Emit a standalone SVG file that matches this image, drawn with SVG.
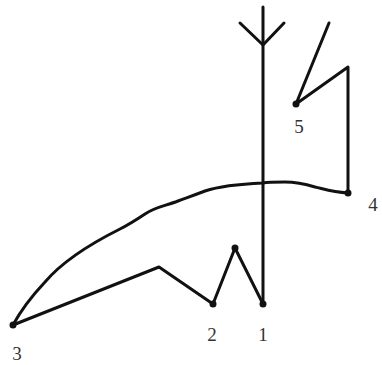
<svg xmlns="http://www.w3.org/2000/svg" width="382" height="365" viewBox="0 0 382 365">
<style>
.ln{fill:none;stroke:#111;stroke-width:3;stroke-linejoin:round;stroke-linecap:round}
.dot{fill:#111}
.lb{font-family:"Liberation Serif",serif;font-size:19px;fill:#333;text-anchor:middle}
</style>
<rect width="382" height="365" fill="#fff"/>
<g id="connectors">
<path class="ln" d="M263,7 V304"/>
<path class="ln" d="M240,23 L263,45 L284,23"/>
<path class="ln" d="M329,23 L296,104 L348,67 V193"/>
<path class="ln" d="M348,193 C332,192 324,189 315,187 C305,184 298,182 285,182 C275,182 268,182 263,183 C240,184 220,186 205,191 C192,196 186,198 178,201 C165,206 155,207 145,214 C136,220 130,224 120,229 C90,244 62,262 45,282 C30,298 20,312 13,325"/>
<path class="ln" d="M13,325 L159,267 L213,304 L235,248 L263,304"/>
</g>
<g id="n1"><circle class="dot" cx="263" cy="304" r="3.5"/><text class="lb" x="263" y="341">1</text></g>
<g id="n2"><circle class="dot" cx="213" cy="304" r="3.5"/><text class="lb" x="212" y="341">2</text></g>
<g id="n3"><circle class="dot" cx="13" cy="325" r="3.5"/><text class="lb" x="17" y="360">3</text></g>
<g id="n4"><circle class="dot" cx="348" cy="193" r="3.5"/><text class="lb" x="373" y="211">4</text></g>
<g id="n5"><circle class="dot" cx="296" cy="104" r="3.5"/><text class="lb" x="299" y="133">5</text></g>
<g id="n6"><circle class="dot" cx="235" cy="248" r="3.5"/></g>
</svg>
